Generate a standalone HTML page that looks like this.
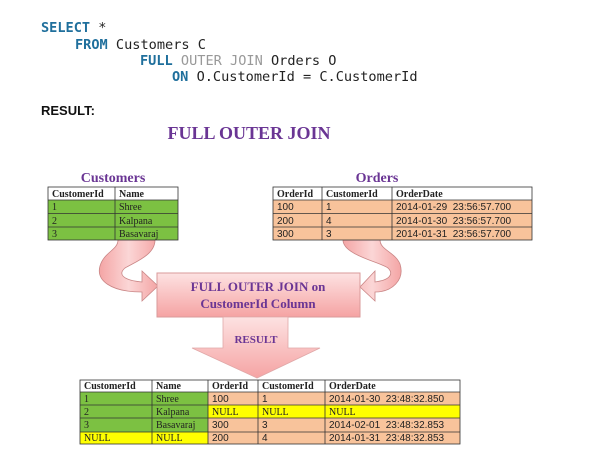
<!DOCTYPE html>
<html><head><meta charset="utf-8"><style>
body{margin:0;background:#fff;width:607px;height:465px;overflow:hidden}
svg{display:block}
text{white-space:pre}
.m{font-family:"DejaVu Sans Mono","Liberation Mono",monospace;font-size:13.6px}
.s{font-family:"Liberation Serif","DejaVu Serif",serif}
</style></head><body>
<svg width="607" height="465" viewBox="0 0 607 465" xmlns="http://www.w3.org/2000/svg">
<defs>
<linearGradient id="pk" x1="0" y1="0" x2="0" y2="1"><stop offset="0" stop-color="#fde2e2"/><stop offset="1" stop-color="#f5a3a3"/></linearGradient>
<linearGradient id="ar" x1="0" y1="0" x2="1" y2="0"><stop offset="0" stop-color="#f4a5a5"/><stop offset="0.5" stop-color="#fbd6d6"/><stop offset="1" stop-color="#f4a5a5"/></linearGradient>
</defs>
<g class="m">
<text x="41" y="32" fill="#1f6f9c" font-weight="bold">SELECT <tspan fill="#222" font-weight="normal">*</tspan></text>
<text x="75" y="49" fill="#1f6f9c" font-weight="bold">FROM <tspan fill="#222" font-weight="normal">Customers C</tspan></text>
<text x="140" y="65" fill="#1f6f9c" font-weight="bold">FULL <tspan fill="#999" font-weight="normal">OUTER JOIN </tspan><tspan fill="#222" font-weight="normal">Orders O</tspan></text>
<text x="172" y="81" fill="#1f6f9c" font-weight="bold">ON <tspan fill="#222" font-weight="normal">O.CustomerId = C.CustomerId</tspan></text>
</g>
<text x="41" y="115" font-family="Liberation Sans,sans-serif" font-weight="bold" font-size="13" fill="#111">RESULT:</text>
<text x="249" y="139" class="s" font-weight="bold" font-size="18" fill="#6a3594" text-anchor="middle">FULL OUTER JOIN</text>
<text x="113" y="182" class="s" font-weight="bold" font-size="14" fill="#6a3594" text-anchor="middle">Customers</text>
<text x="377" y="182" class="s" font-weight="bold" font-size="14" fill="#6a3594" text-anchor="middle">Orders</text>

<path d="M118 240 L155 240 C155 255 135 262 125 268 C118 274 122 280 142 282 L142 271 L158 286 L142 301 L142 292 C110 292 96 280 100 266 C104 252 118 250 118 240 Z" fill="url(#ar)" stroke="#c98585" stroke-width="0.8"/>
<path d="M343 240 L380 240 C380 250 395 252 400 264 C405 280 392 292 375 292 L375 301 L360 287 L375 271 L375 282 C390 280 394 274 388 268 C380 262 343 255 343 240 Z" fill="url(#ar)" stroke="#c98585" stroke-width="0.8"/>
<rect x="157" y="273" width="203" height="44" fill="url(#pk)" stroke="#d99a9a" stroke-width="1"/>
<text x="258" y="291" class="s" font-weight="bold" font-size="13" fill="#6a3594" text-anchor="middle">FULL OUTER JOIN on</text>
<text x="258" y="308" class="s" font-weight="bold" font-size="13" fill="#6a3594" text-anchor="middle">CustomerId Column</text>
<path d="M223 317 L288 317 L288 348 L320 348 L257 378 L192 348 L223 348 Z" fill="url(#pk)" stroke="#e0a8a8" stroke-width="0.8"/>
<text x="256" y="343" class="s" font-weight="bold" font-size="11" fill="#6a3594" text-anchor="middle">RESULT</text>

<g class="s" font-size="10" fill="#222">
<rect x="48" y="187" width="130" height="13" fill="#fff"/>
<rect x="48" y="200" width="130" height="40" fill="#7cc142"/>
<g stroke="#333" stroke-width="0.8" fill="none">
<rect x="48" y="187" width="130" height="53"/>
<line x1="48" y1="200" x2="178" y2="200"/><line x1="48" y1="213.5" x2="178" y2="213.5"/><line x1="48" y1="227" x2="178" y2="227"/>
<line x1="115" y1="187" x2="115" y2="240"/>
</g>
<text x="52" y="197" font-weight="bold">CustomerId</text><text x="119" y="197" font-weight="bold">Name</text>
<text x="52" y="210">1</text><text x="119" y="210">Shree</text>
<text x="52" y="224">2</text><text x="119" y="224">Kalpana</text>
<text x="52" y="237">3</text><text x="119" y="237">Basavaraj</text>

<rect x="273" y="187" width="259" height="13" fill="#fff"/>
<rect x="273" y="200" width="259" height="40" fill="#f8c39b"/>
<g stroke="#333" stroke-width="0.8" fill="none">
<rect x="273" y="187" width="259" height="53"/>
<line x1="273" y1="200" x2="532" y2="200"/><line x1="273" y1="213.5" x2="532" y2="213.5"/><line x1="273" y1="227" x2="532" y2="227"/>
<line x1="322" y1="187" x2="322" y2="240"/><line x1="392" y1="187" x2="392" y2="240"/>
</g>
<text x="277" y="197" font-weight="bold">OrderId</text><text x="326" y="197" font-weight="bold">CustomerId</text><text x="396" y="197" font-weight="bold">OrderDate</text>
<g font-family="Liberation Sans,sans-serif">
<text x="277" y="210">100</text><text x="326" y="210">1</text><text x="396" y="210">2014-01-29  23:56:57.700</text>
<text x="277" y="224">200</text><text x="326" y="224">4</text><text x="396" y="224">2014-01-30  23:56:57.700</text>
<text x="277" y="237">300</text><text x="326" y="237">3</text><text x="396" y="237">2014-01-31  23:56:57.700</text>
</g>

<rect x="80" y="380" width="380" height="12" fill="#fff"/>
<rect x="80" y="392" width="128" height="40" fill="#7cc142"/>
<rect x="80" y="432" width="128" height="12" fill="#ffff00"/>
<rect x="208" y="392" width="252" height="52" fill="#f8c39b"/>
<rect x="208" y="405" width="252" height="13" fill="#ffff00"/>
<g stroke="#333" stroke-width="0.8" fill="none">
<rect x="80" y="380" width="380" height="64"/>
<line x1="80" y1="392" x2="460" y2="392"/><line x1="80" y1="405" x2="460" y2="405"/><line x1="80" y1="418" x2="460" y2="418"/><line x1="80" y1="432" x2="460" y2="432"/>
<line x1="152" y1="380" x2="152" y2="444"/><line x1="208" y1="380" x2="208" y2="444"/><line x1="258" y1="380" x2="258" y2="444"/><line x1="325" y1="380" x2="325" y2="444"/>
</g>
<text x="84" y="389" font-weight="bold">CustomerId</text><text x="156" y="389" font-weight="bold">Name</text><text x="212" y="389" font-weight="bold">OrderId</text><text x="262" y="389" font-weight="bold">CustomerId</text><text x="329" y="389" font-weight="bold">OrderDate</text>
<text x="84" y="402">1</text><text x="156" y="402">Shree</text><text x="212" y="402" font-family="Liberation Sans,sans-serif">100</text><text x="262" y="402" font-family="Liberation Sans,sans-serif">1</text><text x="329" y="402" font-family="Liberation Sans,sans-serif">2014-01-30  23:48:32.850</text>
<text x="84" y="415">2</text><text x="156" y="415">Kalpana</text><text x="212" y="415">NULL</text><text x="262" y="415">NULL</text><text x="329" y="415">NULL</text>
<text x="84" y="428">3</text><text x="156" y="428">Basavaraj</text><text x="212" y="428" font-family="Liberation Sans,sans-serif">300</text><text x="262" y="428" font-family="Liberation Sans,sans-serif">3</text><text x="329" y="428" font-family="Liberation Sans,sans-serif">2014-02-01  23:48:32.853</text>
<text x="84" y="441">NULL</text><text x="156" y="441">NULL</text><text x="212" y="441" font-family="Liberation Sans,sans-serif">200</text><text x="262" y="441" font-family="Liberation Sans,sans-serif">4</text><text x="329" y="441" font-family="Liberation Sans,sans-serif">2014-01-31  23:48:32.853</text>
</g>
</svg>
</body></html>
